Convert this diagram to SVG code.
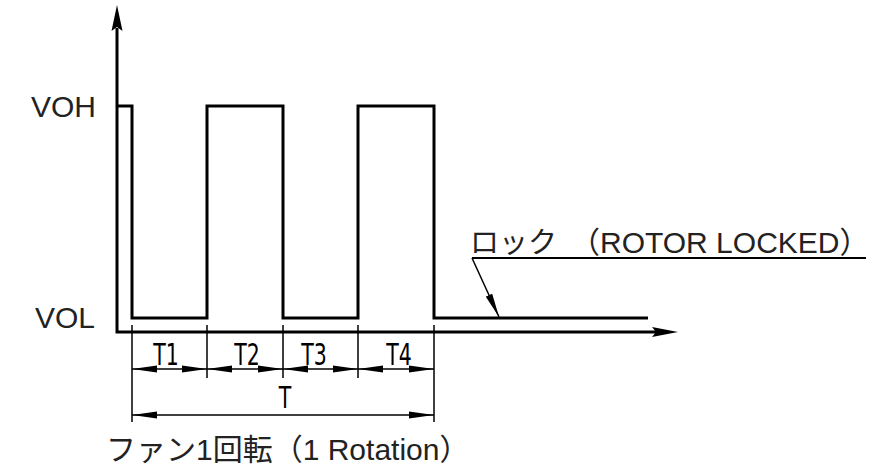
<svg xmlns="http://www.w3.org/2000/svg" width="871" height="473" viewBox="0 0 871 473">
<defs>
<style>
.main{fill:none;stroke:#000;stroke-width:3;stroke-linejoin:miter;stroke-linecap:butt}
.dim{fill:none;stroke:#000;stroke-width:1.5}
.ah{fill:#000;stroke:none}
.lbl{font-family:"Liberation Sans","Noto Sans CJK JP",sans-serif;fill:#222}
.tl{font-family:"DejaVu Sans",sans-serif;fill:#000;font-size:31px;text-anchor:middle}
</style>
<marker id="da" viewBox="0 0 25 8" refX="25" refY="4" markerWidth="25" markerHeight="8" markerUnits="userSpaceOnUse" orient="auto-start-reverse">
<path d="M0,0.5 L25,4 L0,7.5 z" class="ah"/>
</marker>
<marker id="la" viewBox="0 0 24 8" refX="24" refY="4" markerWidth="24" markerHeight="8" markerUnits="userSpaceOnUse" orient="auto">
<path d="M0,0.5 L24,4 L0,7.5 z" class="ah"/>
</marker>
</defs>
<g id="axes">
<path class="main" d="M117,28 V332 H660"/>
<path class="ah" d="M117,5 L122.5,31 L117,27 L111.5,31 z"/>
<path class="ah" d="M678,332 L652,337 L656,332 L652,327 z"/>
</g>
<g id="waveform">
<path class="main" d="M117,106 H132 V318 H207 V106 H283 V318 H358 V106 H434 V318 H648"/>
</g>
<g id="labels">
<text class="lbl" x="96" y="117" font-size="30" text-anchor="end">VOH</text>
<text class="lbl" x="95" y="328" font-size="30" text-anchor="end">VOL</text>
</g>
<g id="connectors">
<path class="dim" d="M132,325 V422 M207,325 V378 M283,325 V378 M358,325 V378 M434,325 V422"/>
<path class="dim" d="M132,369 H207" marker-start="url(#da)" marker-end="url(#da)"/>
<path class="dim" d="M207,369 H283" marker-start="url(#da)" marker-end="url(#da)"/>
<path class="dim" d="M283,369 H358" marker-start="url(#da)" marker-end="url(#da)"/>
<path class="dim" d="M358,369 H434" marker-start="url(#da)" marker-end="url(#da)"/>
<path class="dim" d="M132,415 H434" marker-start="url(#da)" marker-end="url(#da)"/>
<path fill="none" stroke="#000" stroke-width="2" d="M866,258 H472"/>
<path fill="none" stroke="#000" stroke-width="1.5" d="M472,258 L499,317" marker-end="url(#la)"/>
</g>
<g id="dimlabels">
<text class="tl" transform="translate(166,365) scale(0.66,1)">T1</text>
<text class="tl" transform="translate(247,365) scale(0.66,1)">T2</text>
<text class="tl" transform="translate(314,365) scale(0.66,1)">T3</text>
<text class="tl" transform="translate(399,365) scale(0.66,1)">T4</text>
<text class="tl" transform="translate(285,408) scale(0.66,1)">T</text>
</g>
<g id="lock">
<text class="lbl" x="470" y="253" font-size="29">ロック<tspan x="570" font-size="30">（ROTOR LOCKED）</tspan></text>
</g>
<g id="rotation">
<text class="lbl" x="106" y="460" font-size="30">ファン1回転（1 Rotation）</text>
</g>
</svg>
